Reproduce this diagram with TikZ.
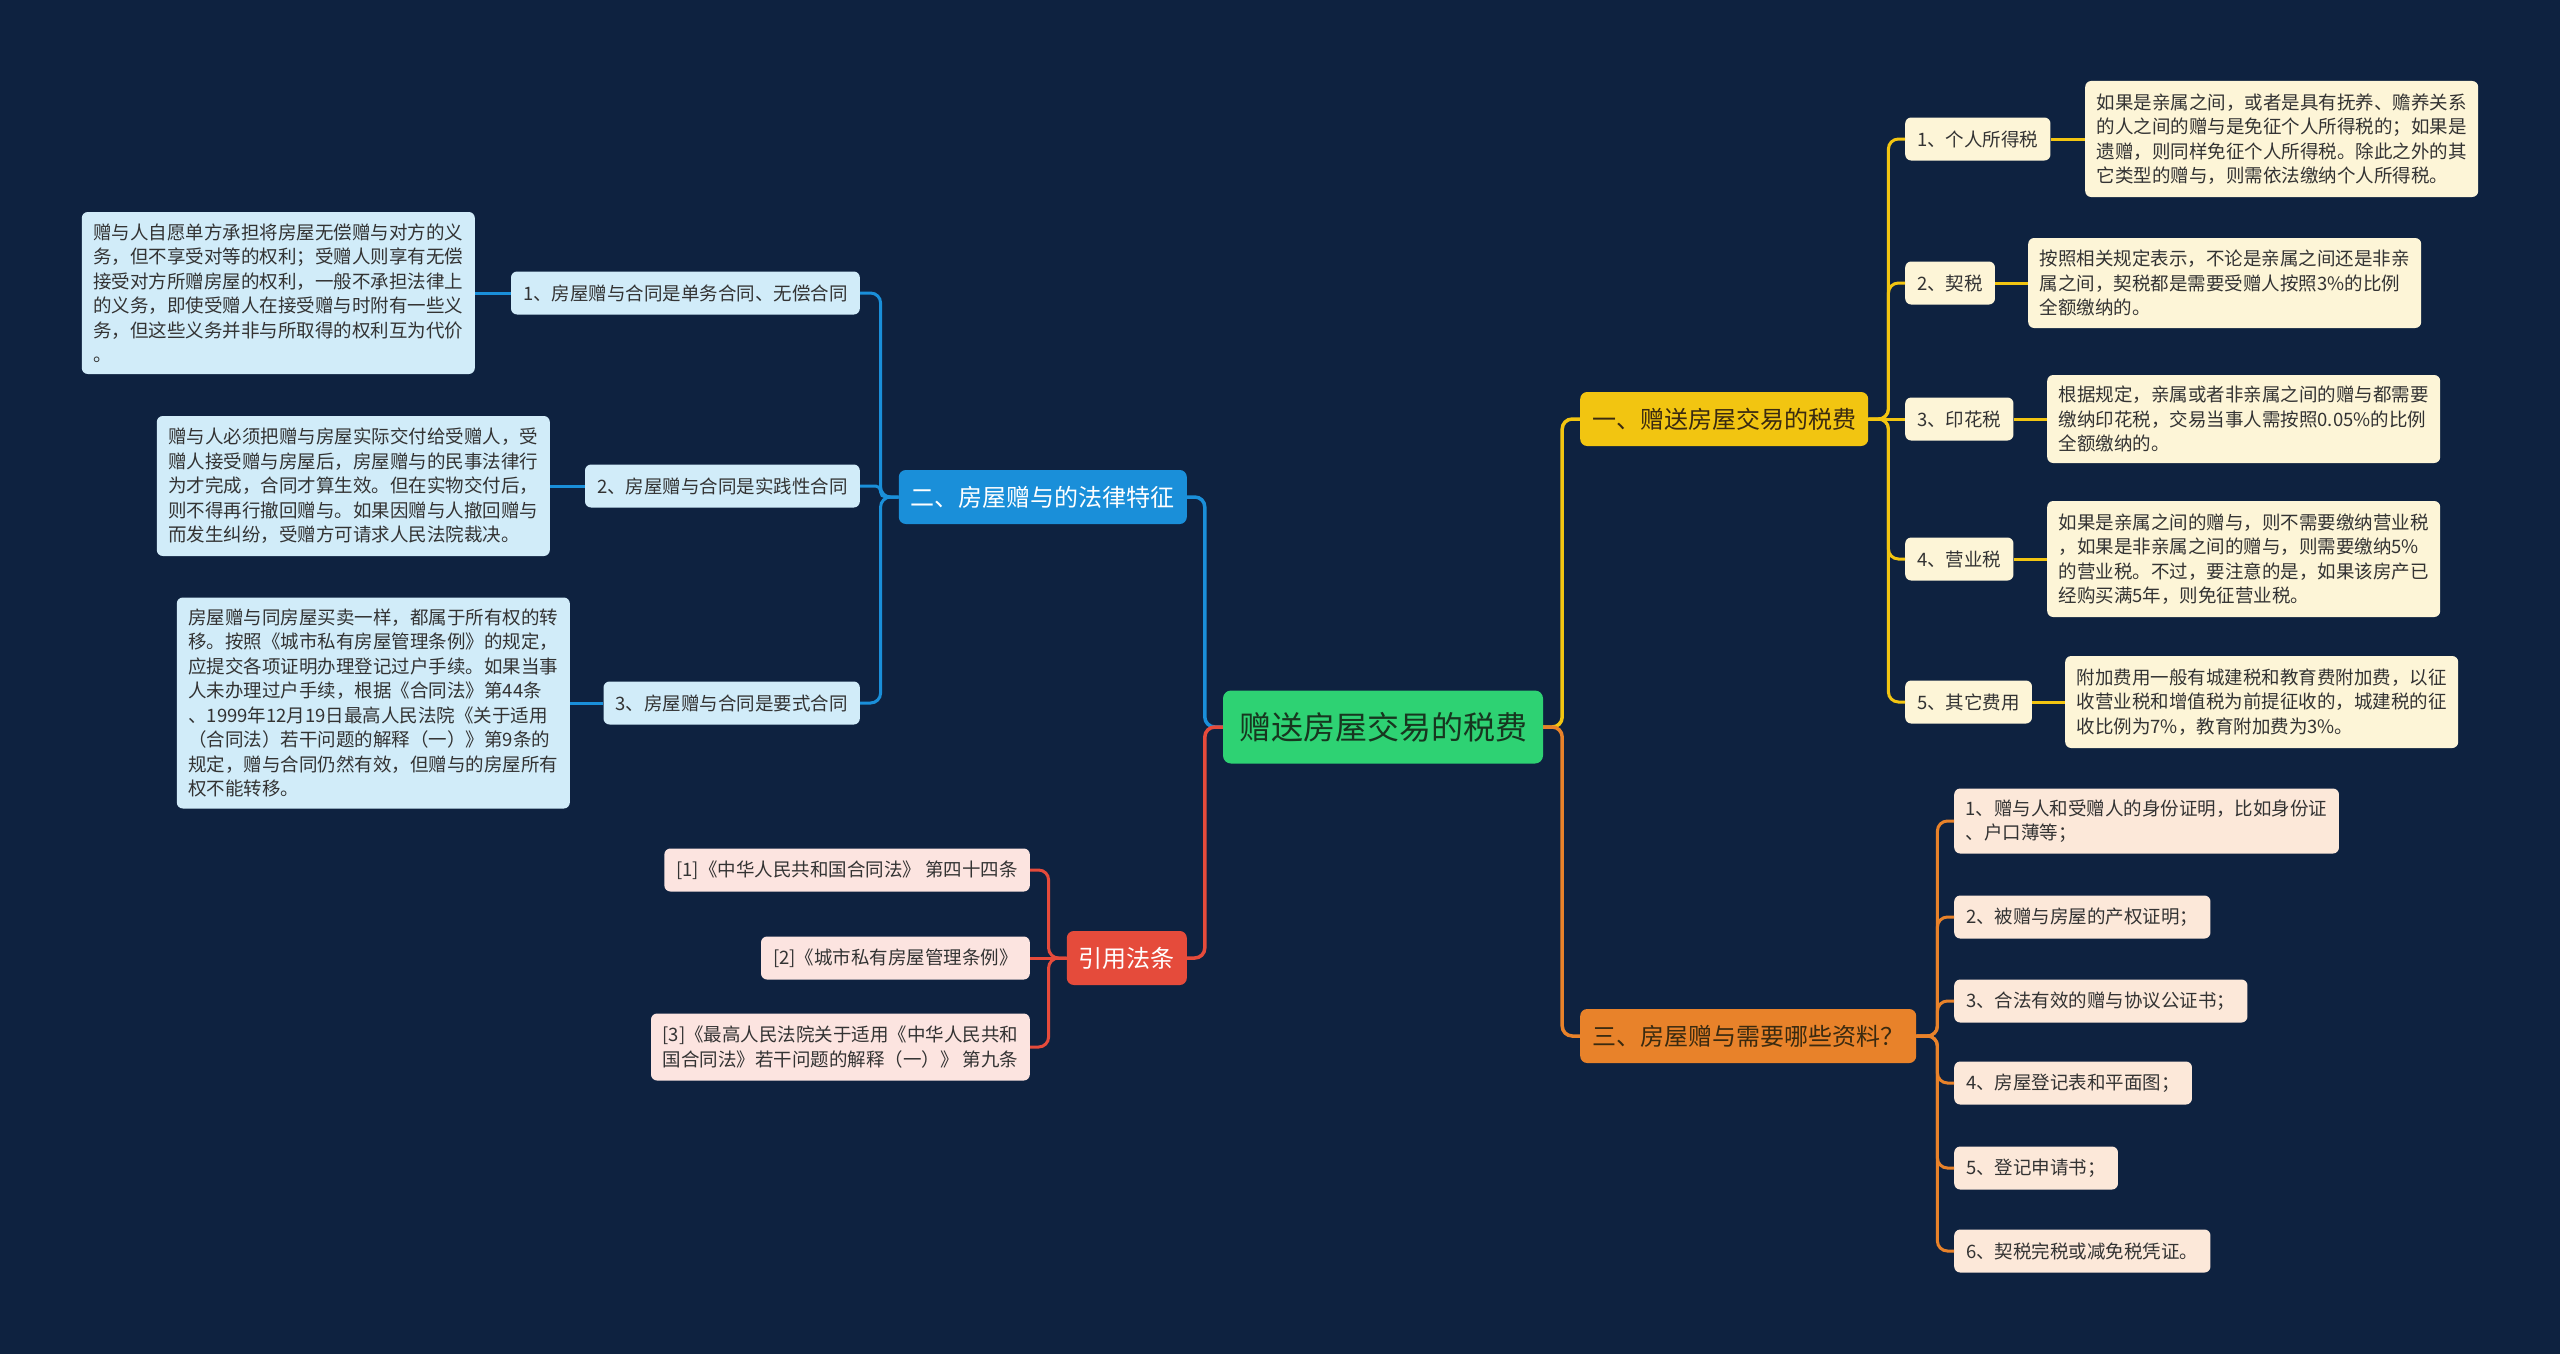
\documentclass[tikz,border=0pt]{standalone}
\usepackage{fontspec}
\setmainfont{Noto Sans CJK SC}
\definecolor{bgc}{HTML}{0E2240}
\definecolor{cgreen}{HTML}{2ED273}
\definecolor{cyel}{HTML}{F2C511}
\definecolor{cora}{HTML}{E8822A}
\definecolor{cblue}{HTML}{1A8FD9}
\definecolor{cred}{HTML}{E54B3B}
\definecolor{lyel}{HTML}{FDF5D7}
\definecolor{lora}{HTML}{FCE8D9}
\definecolor{lblue}{HTML}{D1ECF9}
\definecolor{lred}{HTML}{FCE4E0}
\definecolor{tdark}{HTML}{333333}
\definecolor{tgreen}{HTML}{17361F}
\definecolor{tbrown}{HTML}{3A2A10}
\begin{document}
\begin{tikzpicture}[x=1pt,y=-1pt,
  rootnode/.style={fill=cgreen, text=tgreen, rounded corners=8pt, minimum height=73pt, inner xsep=16pt, inner ysep=0pt, font=\fontsize{32}{38}\selectfont},
  mainnode/.style={rounded corners=7pt, minimum height=54pt, inner xsep=12pt, inner ysep=0pt, font=\fontsize{24}{30}\selectfont},
  leafnode/.style={rounded corners=6pt, minimum height=43pt, inner xsep=12pt, inner ysep=0pt, text=tdark, font=\fontsize{18.5}{24.5}\selectfont},
  notenode/.style={rounded corners=6pt, inner xsep=11.5pt, inner ysep=10pt, align=left, text=tdark, font=\fontsize{18.5}{24.5}\selectfont},
  link/.style={line width=3pt, rounded corners=10pt},
  biglink/.style={line width=3.5pt, rounded corners=10pt}
]
\fill[bgc] (0,0) rectangle (2560,1354);
\useasboundingbox (0,0) rectangle (2560,1354);

% root and main branches
\node[rootnode] (c) at (1383,727) {赠送房屋交易的税费};
\node[mainnode, fill=cyel, text=tbrown, anchor=west] (b1) at (1580,419) {一、赠送房屋交易的税费};
\node[mainnode, fill=cora, text=tbrown, anchor=west] (b3) at (1580,1036) {三、房屋赠与需要哪些资料？};
\node[mainnode, fill=cblue, text=white, anchor=east] (b2) at (1187,497) {二、房屋赠与的法律特征};
\node[mainnode, fill=cred, text=white, anchor=east] (b4) at (1187,958) {引用法条};

\draw[biglink, cyel] (c.east) -- ++(19,0) |- (b1.west);
\draw[biglink, cora] (c.east) -- ++(19,0) |- (b3.west);
\draw[biglink, cblue] (c.west) -- ++(-18,0) |- (b2.east);
\draw[biglink, cred] (c.west) -- ++(-18,0) |- (b4.east);

% yellow branch
\node[leafnode, fill=lyel, anchor=west] (y1) at (1905,139) {1、个人所得税};
\node[leafnode, fill=lyel, anchor=west] (y2) at (1905,283) {2、契税};
\node[leafnode, fill=lyel, anchor=west] (y3) at (1905,419) {3、印花税};
\node[leafnode, fill=lyel, anchor=west] (y4) at (1905,559) {4、营业税};
\node[leafnode, fill=lyel, anchor=west] (y5) at (1905,702) {5、其它费用};

\node[notenode, fill=lyel, anchor=west, minimum height=116pt] (yd1) at (2085,139) {如果是亲属之间，或者是具有抚养、赡养关系\\的人之间的赠与是免征个人所得税的；如果是\\遗赠，则同样免征个人所得税。除此之外的其\\它类型的赠与，则需依法缴纳个人所得税。};
\node[notenode, fill=lyel, anchor=west, minimum height=90pt] (yd2) at (2028,283) {按照相关规定表示，不论是亲属之间还是非亲\\属之间，契税都是需要受赠人按照3\%的比例\\全额缴纳的。};
\node[notenode, fill=lyel, anchor=west, minimum height=88pt] (yd3) at (2047,419) {根据规定，亲属或者非亲属之间的赠与都需要\\缴纳印花税，交易当事人需按照0.05\%的比例\\全额缴纳的。};
\node[notenode, fill=lyel, anchor=west, minimum height=116pt] (yd4) at (2047,559) {如果是亲属之间的赠与，则不需要缴纳营业税\\，如果是非亲属之间的赠与，则需要缴纳5\%\\的营业税。不过，要注意的是，如果该房产已\\经购买满5年，则免征营业税。};
\node[notenode, fill=lyel, anchor=west, minimum height=92pt] (yd5) at (2065,702) {附加费用一般有城建税和教育费附加费，以征\\收营业税和增值税为前提征收的，城建税的征\\收比例为7\%，教育附加费为3\%。};

\draw[link, cyel] (b1.east) -- ++(20,0) |- (y1.west);
\draw[link, cyel] (b1.east) -- ++(20,0) |- (y2.west);
\draw[link, cyel] (b1.east) -- (y3.west);
\draw[link, cyel] (b1.east) -- ++(20,0) |- (y4.west);
\draw[link, cyel] (b1.east) -- ++(20,0) |- (y5.west);
\draw[link, cyel] (y1.east) -- (y1.east -| yd1.west);
\draw[link, cyel] (y2.east) -- (y2.east -| yd2.west);
\draw[link, cyel] (y3.east) -- (y3.east -| yd3.west);
\draw[link, cyel] (y4.east) -- (y4.east -| yd4.west);
\draw[link, cyel] (y5.east) -- (y5.east -| yd5.west);

% orange branch
\node[notenode, fill=lora, anchor=west, minimum height=65pt] (o1) at (1954,821) {1、赠与人和受赠人的身份证明，比如身份证\\、户口薄等；};
\node[leafnode, fill=lora, anchor=west] (o2) at (1954,917) {2、被赠与房屋的产权证明；};
\node[leafnode, fill=lora, anchor=west] (o3) at (1954,1001) {3、合法有效的赠与协议公证书；};
\node[leafnode, fill=lora, anchor=west] (o4) at (1954,1083) {4、房屋登记表和平面图；};
\node[leafnode, fill=lora, anchor=west] (o5) at (1954,1168) {5、登记申请书；};
\node[leafnode, fill=lora, anchor=west] (o6) at (1954,1251) {6、契税完税或减免税凭证。};
\foreach \n in {o1,o2,o3,o4,o5,o6}
  \draw[link, cora] (b3.east) -- ++(21,0) |- (\n.west);

% blue branch
\node[leafnode, fill=lblue, anchor=east] (s1) at (860,293) {1、房屋赠与合同是单务合同、无偿合同};
\node[leafnode, fill=lblue, anchor=east] (s2) at (860,486) {2、房屋赠与合同是实践性合同};
\node[leafnode, fill=lblue, anchor=east] (s3) at (860,703) {3、房屋赠与合同是要式合同};

\node[notenode, fill=lblue, anchor=east, minimum height=162pt] (sd1) at (475,293) {赠与人自愿单方承担将房屋无偿赠与对方的义\\务，但不享受对等的权利；受赠人则享有无偿\\接受对方所赠房屋的权利，一般不承担法律上\\的义务，即使受赠人在接受赠与时附有一些义\\务，但这些义务并非与所取得的权利互为代价\\。};
\node[notenode, fill=lblue, anchor=east, minimum height=140pt] (sd2) at (550,486) {赠与人必须把赠与房屋实际交付给受赠人，受\\赠人接受赠与房屋后，房屋赠与的民事法律行\\为才完成，合同才算生效。但在实物交付后，\\则不得再行撤回赠与。如果因赠与人撤回赠与\\而发生纠纷，受赠方可请求人民法院裁决。};
\node[notenode, fill=lblue, anchor=east, minimum height=211pt] (sd3) at (570,703) {房屋赠与同房屋买卖一样，都属于所有权的转\\移。按照《城市私有房屋管理条例》的规定，\\应提交各项证明办理登记过户手续。如果当事\\人未办理过户手续，根据《合同法》第44条\\、1999年12月19日最高人民法院《关于适用\\（合同法）若干问题的解释（一）》第9条的\\规定，赠与合同仍然有效，但赠与的房屋所有\\权不能转移。};

\draw[link, cblue] (b2.west) -- ++(-18,0) |- (s1.east);
\draw[link, cblue, rounded corners=5pt] (b2.west) -- ++(-18,0) |- (s2.east);
\draw[link, cblue] (b2.west) -- ++(-18,0) |- (s3.east);
\draw[link, cblue] (s1.west) -- (s1.west -| sd1.east);
\draw[link, cblue] (s2.west) -- (s2.west -| sd2.east);
\draw[link, cblue] (s3.west) -- (s3.west -| sd3.east);

% red branch
\node[leafnode, fill=lred, anchor=east] (r1) at (1030,870) {[1]《中华人民共和国合同法》 第四十四条};
\node[leafnode, fill=lred, anchor=east] (r2) at (1030,958) {[2]《城市私有房屋管理条例》};
\node[notenode, fill=lred, anchor=east, minimum height=67pt] (r3) at (1030,1047) {[3]《最高人民法院关于适用《中华人民共和\\国合同法》若干问题的解释（一）》 第九条};

\draw[link, cred] (b4.west) -- ++(-18,0) |- (r1.east);
\draw[link, cred] (b4.west) -- (r2.east);
\draw[link, cred] (b4.west) -- ++(-18,0) |- (r3.east);
\end{tikzpicture}
\end{document}
